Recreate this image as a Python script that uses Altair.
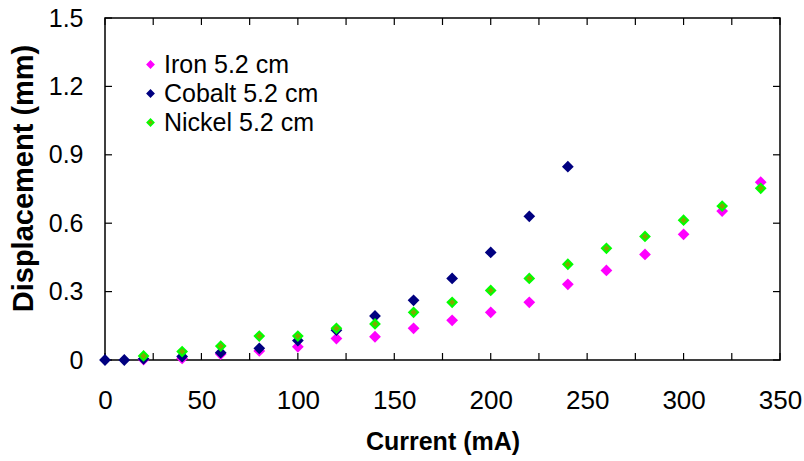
import altair as alt
import pandas as pd

# Measurements: displacement (mm) against coil current (mA)
iron_current = [20, 40, 60, 80, 100, 120, 140, 160, 180, 200, 220, 240, 260, 280, 300, 320, 340]
iron_disp = [0.002, 0.007, 0.026, 0.040, 0.058, 0.094, 0.102, 0.139, 0.174, 0.209, 0.253,
             0.332, 0.393, 0.463, 0.551, 0.653, 0.780]

cobalt_current = [0, 10, 20, 40, 60, 80, 100, 120, 140, 160, 180, 200, 220, 240]
cobalt_disp = [0.0, 0.0, 0.005, 0.015, 0.032, 0.051, 0.085, 0.131, 0.193, 0.262, 0.358,
               0.472, 0.630, 0.848]

nickel_current = [20, 40, 60, 80, 100, 120, 140, 160, 180, 200, 220, 240, 260, 280, 300, 320, 340]
nickel_disp = [0.018, 0.037, 0.061, 0.105, 0.105, 0.139, 0.158, 0.209, 0.253, 0.305, 0.358,
               0.420, 0.490, 0.542, 0.613, 0.675, 0.753]

series_names = ["Iron 5.2 cm", "Cobalt 5.2 cm", "Nickel 5.2 cm"]
fill_colors = ["#ff00ff", "#000080", "#7fa800"]
stroke_colors = ["#ff00ff", "#000080", "#00ff00"]

x_ticks = [0, 25, 50, 75, 100, 125, 150, 175, 200, 225, 250, 275, 300, 325, 350]
y_ticks = [0, 0.3, 0.6, 0.9, 1.2, 1.5]

W, H = 675, 342
TICK = 7
FONT = "Liberation Sans, Arial, Helvetica, sans-serif"

points = pd.concat([
    pd.DataFrame({"mA": iron_current, "mm": iron_disp, "series": series_names[0]}),
    pd.DataFrame({"mA": cobalt_current, "mm": cobalt_disp, "series": series_names[1]}),
    pd.DataFrame({"mA": nickel_current, "mm": nickel_disp, "series": series_names[2]}),
], ignore_index=True)

x_scale = alt.Scale(domain=[0, 350], nice=False, zero=True)
y_scale = alt.Scale(domain=[0, 1.5], nice=False, zero=True)

x_enc = alt.X(
    "mA:Q", scale=x_scale,
    axis=alt.Axis(
        title="Current (mA)", values=[0, 50, 100, 150, 200, 250, 300, 350],
        ticks=False, tickSize=0, domain=False, grid=False,
        labelFlush=False, labelOverlap=False,
        labelFontSize=26, labelFont=FONT, labelColor="black", labelPadding=27,
        titleFontSize=25, titleFont=FONT, titleFontWeight="bold", titleColor="black",
        titleX=W / 2, titleY=81, titleBaseline="middle",
    ),
)
y_enc = alt.Y(
    "mm:Q", scale=y_scale,
    axis=alt.Axis(
        title="Displacement (mm)", values=y_ticks, format=".1~f",
        ticks=False, tickSize=0, domain=False, grid=False,
        labelFlush=False, labelOverlap=False,
        labelFontSize=25, labelFont=FONT, labelColor="black", labelPadding=22,
        titleFontSize=29, titleFont=FONT, titleFontWeight="bold", titleColor="black",
        titleAngle=270, titleX=-82, titleY=160, titleBaseline="middle",
    ),
)

legend_style = dict(
    title=None, orient="none", legendX=33, legendY=34,
    labelFontSize=25, labelFont=FONT, labelColor="black",
    symbolSize=45, symbolStrokeWidth=1.5, labelOffset=1, rowPadding=3,
)

scatter = alt.Chart(points).mark_point(
    shape="diamond", filled=True, size=80, strokeWidth=2, opacity=1
).encode(
    x=x_enc,
    y=y_enc,
    fill=alt.Fill(
        "series:N",
        scale=alt.Scale(domain=series_names, range=fill_colors),
        legend=alt.Legend(**legend_style),
    ),
    stroke=alt.Stroke(
        "series:N",
        scale=alt.Scale(domain=series_names, range=stroke_colors),
        legend=alt.Legend(**legend_style),
    ),
)

xt = pd.DataFrame({"mA": x_ticks})
yt = pd.DataFrame({"mm": y_ticks})
rule = dict(color="black", strokeWidth=1.2)

bottom_ticks = alt.Chart(xt).mark_rule(**rule).encode(
    x=x_enc, y=alt.value(H), y2=alt.value(H - TICK))
top_ticks = alt.Chart(xt).mark_rule(**rule).encode(
    x=x_enc, y=alt.value(0), y2=alt.value(TICK))
left_ticks = alt.Chart(yt).mark_rule(**rule).encode(
    y=y_enc, x=alt.value(0), x2=alt.value(TICK))
right_ticks = alt.Chart(yt).mark_rule(**rule).encode(
    y=y_enc, x=alt.value(W), x2=alt.value(W - TICK))

chart = alt.layer(
    bottom_ticks, top_ticks, left_ticks, right_ticks, scatter
).properties(
    width=W, height=H,
    autosize=alt.AutoSizeParams(type="none"),
    padding={"left": 105, "top": 18, "right": 24, "bottom": 101},
    background="white",
).configure_view(
    stroke="black", strokeWidth=1.5,
)

chart.save("out.html", embed_options={"renderer": "svg", "actions": False})
